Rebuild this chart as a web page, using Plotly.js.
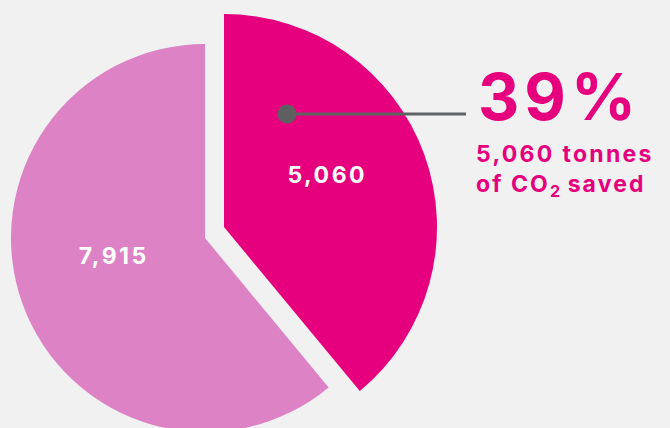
<!DOCTYPE html>
<html>
<head>
<meta charset="utf-8">
<script src="https://cdn.plot.ly/plotly-3.0.1.min.js"></script>
<style>
  html, body { margin: 0; padding: 0; background: #F0F1F0; overflow: hidden; width: 670px; height: 428px; }
  #chart { width: 670px; height: 450px; }
  svg text { font-variant-numeric: tabular-nums; }
</style>
</head>
<body>
<div id="chart"></div>
<script>
// ---- data ----
const categories = ['CO2 saved', 'Remaining'];
const values = [5060, 7915];
const unitLabel = 'tonnes';

// ---- styling / layout helpers ----
const W = 670, H = 450;
const MAGENTA = '#E6007E';
const PINK = '#DC82C5';
const CLEAR = 'rgba(0,0,0,0)';
const FONT = 'Inter, "DejaVu Sans", sans-serif';

function dom(cx, cy, r) {
  return { x: [(cx - r) / W, (cx + r) / W], y: [1 - (cy + r) / H, 1 - (cy - r) / H] };
}
const px = x => x / W;
const py = y => 1 - y / H;
const spaced = (s, ls) => '<span style="letter-spacing:' + ls + 'px">' + s + '</span>';

const total = values.reduce((a, b) => a + b, 0);
const pct = Math.round(100 * values[0] / total);
const fmt = v => v.toLocaleString('en-US');

const common = {
  type: 'pie', labels: categories, values: values, sort: false,
  direction: 'clockwise', rotation: 0, hoverinfo: 'skip', showlegend: false,
  insidetextorientation: 'horizontal',
  textfont: { family: FONT, size: 23, color: '#FFFFFF', weight: 700 },
  texttemplate: spaced('%{value:,}', 2.5) + '<br>\u00A0'
};

const traces = [
  Object.assign({}, common, {
    domain: dom(205, 238, 194),
    marker: { colors: [CLEAR, PINK], line: { width: 0 } },
    textposition: ['none', 'inside']
  }),
  Object.assign({}, common, {
    domain: dom(224, 227, 213),
    marker: { colors: [MAGENTA, CLEAR], line: { width: 0 } },
    textposition: ['inside', 'none']
  })
];

const layout = {
  width: W, height: H,
  margin: { l: 0, r: 0, t: 0, b: 0 },
  paper_bgcolor: '#F0F1F0', plot_bgcolor: '#F0F1F0',
  showlegend: false,
  shapes: [
    { type: 'line', xref: 'paper', yref: 'paper', x0: px(287), x1: px(466), y0: py(114), y1: py(114),
      line: { color: '#616264', width: 3 } },
    { type: 'circle', xref: 'paper', yref: 'paper', x0: px(277.5), x1: px(296.5), y0: py(123.5), y1: py(104.5),
      fillcolor: '#5E5F61', line: { width: 0 } }
  ],
  annotations: [
    { xref: 'paper', yref: 'paper', x: px(476), y: py(96), xanchor: 'left', yanchor: 'middle',
      text: spaced(pct + '%', 5), showarrow: false,
      font: { family: FONT, size: 64, color: MAGENTA, weight: 700 } },
    { xref: 'paper', yref: 'paper', x: px(474), y: py(170), xanchor: 'left', yanchor: 'middle', align: 'left',
      text: spaced(fmt(values[0]) + ' ' + unitLabel, 2.3) + '<br>' +
            spaced('of CO', 2.1) + '<sub>2</sub>' + spaced(' saved', 2.1),
      showarrow: false,
      font: { family: FONT, size: 23, color: MAGENTA, weight: 700 } }
  ]
};

Plotly.newPlot('chart', traces, layout, { displayModeBar: false, staticPlot: true });
</script>
</body>
</html>
